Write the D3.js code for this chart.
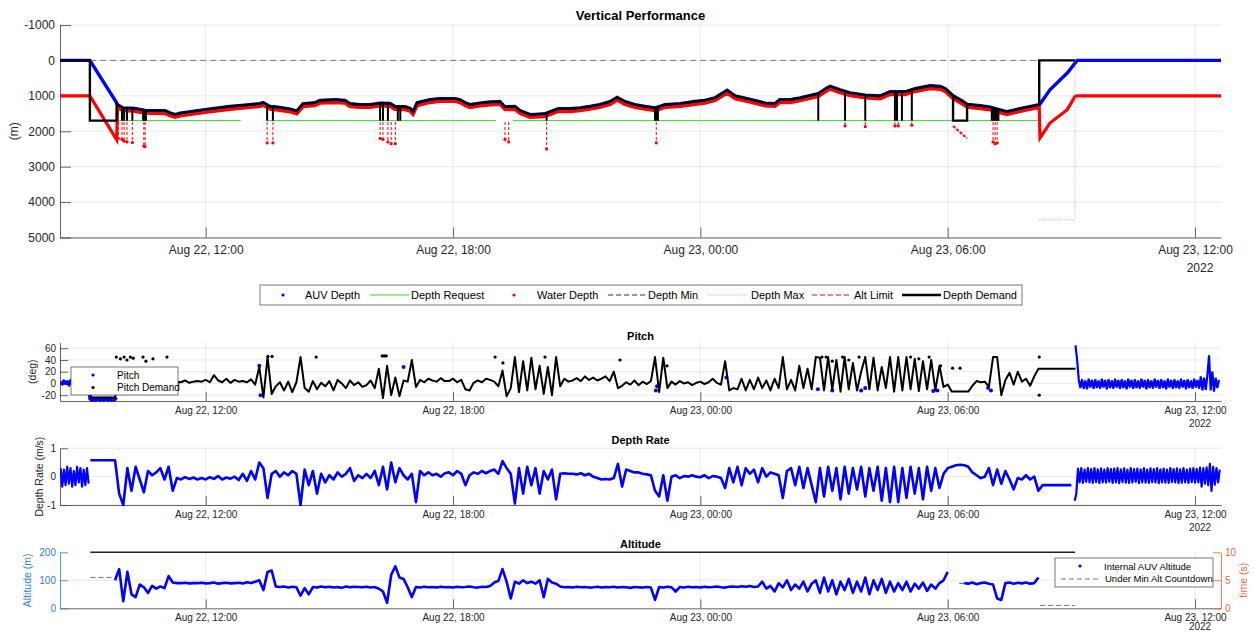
<!DOCTYPE html>
<html>
<head>
<meta charset="utf-8">
<title>Vertical Performance</title>
<script src="https://cdn.jsdelivr.net/npm/d3@7"></script>
<style>
    body { margin: 0; background: #ffffff; }
    svg text { font-family: "Liberation Sans", Arial, Helvetica, sans-serif; }
</style>
</head>
<body>
<div id="chart"></div>
<script>
// All times are hours after Aug 22 2022, 00:00
var timeStart = 8.465;
var timeEnd = 36.63;
var yearLabel = "2022";

// ---- Vertical Performance (m, positive down)
var profileHours = [8.47, 9.19, 9.84, 9.86, 9.99, 10.24, 10.53, 11.01, 11.13, 11.26, 11.38, 11.98, 12.59, 13.07, 13.32, 13.39,
    13.56, 13.80, 14.05, 14.21, 14.36, 14.65, 14.77, 15.14, 15.38, 15.50, 15.74, 15.99, 16.23, 16.47, 16.59, 16.84,
    16.96, 17.03, 17.13, 17.44, 17.68, 18.05, 18.17, 18.29, 18.41, 18.65, 18.90, 19.14, 19.26, 19.50, 19.63, 19.87,
    20.11, 20.23, 20.55, 20.84, 21.08, 21.32, 21.56, 21.81, 21.98, 22.17, 22.41, 22.66, 22.90, 23.02, 23.14, 23.51,
    23.87, 24.11, 24.36, 24.65, 24.84, 25.21, 25.57, 25.81, 25.93, 26.18, 26.42, 26.86, 27.07, 27.15, 27.39, 27.63,
    28.00, 28.36, 28.60, 28.97, 29.21, 29.57, 29.82, 29.94, 30.13, 30.37, 30.47, 30.79, 31.03, 31.27, 31.44, 31.63,
    31.99, 32.22, 32.24, 32.48, 32.90, 33.09, 33.14, 36.63];
var auvDepth = [0, 0, 1200, 1250, 1340, 1350, 1410, 1420, 1480, 1530, 1490, 1390, 1300, 1250, 1220, 1190,
    1300, 1330, 1375, 1430, 1225, 1195, 1130, 1110, 1130, 1225, 1250, 1250, 1205, 1215, 1300, 1310,
    1355, 1450, 1195, 1110, 1080, 1080, 1110, 1195, 1250, 1205, 1175, 1165, 1310, 1300, 1420, 1530,
    1515, 1505, 1365, 1365, 1340, 1300, 1250, 1165, 1045, 1165, 1250, 1300, 1340, 1300, 1250, 1220,
    1160, 1130, 1055, 845, 1000, 1100, 1205, 1220, 1110, 1110, 1060, 940, 780, 735, 830, 915,
    980, 1005, 885, 885, 800, 715, 735, 800, 1000, 1160, 1240, 1280, 1320, 1395, 1450, 1395,
    1305, 1250, 1230, 830, 355, 75, 0, 0];
var waterDepth = [1000, 1000, 2240, 1330, 1420, 1430, 1490, 1500, 1560, 1610, 1570, 1470, 1380, 1330, 1300, 1270,
    1380, 1410, 1455, 1510, 1305, 1275, 1210, 1190, 1210, 1305, 1330, 1330, 1285, 1295, 1380, 1390,
    1435, 1530, 1275, 1190, 1160, 1160, 1190, 1275, 1330, 1285, 1255, 1245, 1390, 1380, 1500, 1610,
    1595, 1585, 1445, 1445, 1420, 1380, 1330, 1245, 1125, 1245, 1330, 1380, 1420, 1380, 1330, 1300,
    1240, 1210, 1135, 925, 1080, 1180, 1285, 1300, 1190, 1190, 1140, 1020, 860, 815, 910, 995,
    1060, 1085, 965, 965, 880, 795, 815, 880, 1080, 1240, 1320, 1360, 1400, 1475, 1530, 1475,
    1385, 1330, 2190, 1770, 1390, 1017, 1000, 1000];

var requestHours = [9.84, 12.85, null, 13.49, 19.04, null, 19.45, 32.24];
var requestDepth = [1700, 1700, null, 1700, 1700, null, 1700, 1700];

var depthMinHours = [8.47, 33.09];
var depthMinValues = [0, 0];
var depthMaxHours = [32.22, 33.09, 33.09];
var depthMaxValues = [4500, 4500, 0];

var altLimitHours = [9.88, 9.97, 10.02, 10.09, 10.22, 10.50, 10.53, 13.49, 13.63, 16.23, 16.30, 16.42, 16.50,
    16.60, 19.26, 19.35, 20.27, 22.93, 27.51, 28.00, 28.72, 28.80, 29.13, 31.10, 31.15, 31.20];
var altLimitBottom = [2200, 2230, 2280, 2300, 2320, 2420, 2430, 2330, 2330, 2200, 2230, 2300, 2350,
    2350, 2230, 2300, 2500, 2330, 1850, 1870, 1850, 1850, 1830, 2300, 2350, 2330];
var altLimitSlopeHours = [30.13, 30.47];
var altLimitSlopeDepth = [1850, 2200];

var demandStartHours = [8.47, 9.19, 9.19, 9.84, 9.84];
var demandStartDepth = [0, 0, 1700, 1700, 1200];
var demandBoxHours = [30.13, 30.13, 30.47, 30.47];
var demandBoxDepth = [1000, 1700, 1700, 1240];
var demandEndHours = [32.22, 32.22, 33.09];
var demandEndDepth = [1250, 0, 0];
var demandSpikeHours = [9.97, 10.02, 10.09, 10.22, 10.48, 10.51, 10.55, 13.49, 13.63, 16.23, 16.30, 16.42, 16.66,
    16.72, 20.27, 22.90, 22.93, 22.97, 26.86, 27.51, 28.00, 28.72, 28.77, 28.89, 29.13, 31.07, 31.10,
    31.13, 31.17, 31.20, 31.23];
var demandSpikeDepth = 1700;

var depthLegend = ["AUV Depth", "Depth Request", "Water Depth", "Depth Min", "Depth Max", "Alt Limit", "Depth Demand"];

// ---- Pitch (deg)
var pitchStartHour = 8.48, pitchStartStep = 0.04;
var pitchStart = [2, 0, 3, 1, 2, -1, 3, 0, 2, 1, 3, -1, 2, 0, 3, 1, 2, 0,
    -26, -28, -26, -28, -27, -26, -28, -26, -28, -27, -26, -28, -26, -28, -27, -26, -28];
var pitchEndHour = 33.1, pitchEndStep = 0.04;
var pitchEnd = [65, 40, 6, -8, 7, -9, 5, -10, 8, -7,
    6, -9, 7, -8, 5, -9, 8, -7, 6, -10,
    7, -8, 5, -9, 8, -7, 6, -9, 7, -8,
    5, -10, 8, -7, 6, -9, 7, -8, 5, -9,
    8, -7, 6, -10, 7, -8, 5, -9, 8, -7,
    6, -9, 7, -8, 5, -10, 8, -7, 6, -9,
    7, -8, 5, -9, 8, -7, 6, -10, 7, -8,
    5, -9, 8, -7, 6, -9, 12, -12, 10, -11,
    14, 48, -12, 20, -14, 10, -8, 6];
var pitchSpotHours = [13.3, 13.33, 16.8, 22.92, 22.95, 24.63, 26.85, 27.2, 27.9, 28.0, 29.65, 29.75, 30.98, 31.05];
var pitchSpotValues = [30, -20, 28, -12, -5, 10, -10, -12, -12, -8, -13, -12, -8, -12];

var pitchDemandHour = 9.2, pitchDemandStep = 0.1;
var pitchDemand = [-24, -24, -24, -24, -24, -24, -24,
    2, 4, 1, 5, 3, 6, 2, 4, 1, 3,
    2, 5, 1, 4, 3, 2, 5, 1, 3, 4,
    3, 6, 2, 14, 5, 2, 8, 1, 6, 3,
    4, 2, 7, -2, 28, -24, 45, -18, -5, 2,
    -12, 3, -15, 2, 45, -8, -14, 4, -10, 1,
    -5, 4, -12, 6, 0, -8, 5, -3, 2, -6,
    -3, 5, -8, 25, -25, 30, -20, 10, -22, 5,
    3, 40, -6, 6, 2, 8, 5, 3, 9, 4,
    4, 8, 2, 6, -10, -12, 1, 5, 2, 8,
    6, 3, -5, 22, -22, -8, 45, -15, 38, -12,
    44, -10, 30, -18, 28, -20, 45, -5, 8, 3,
    5, 9, 4, 12, 6, 10, 5, 8, 12, 4,
    20, -8, -4, 2, -2, 5, -3, 3, -1, 4,
    45, -15, 44, -8, 3, -2, 4, 0, 2, -3,
    1, 3, -1, 2, 8, 1, -2, 38, -12, -8,
    -10, 8, -12, 6, -10, 10, -8, 5, -12, 8,
    -8, 45, -10, 6, -12, 30, -8, 25, -10, 45,
    44, -12, 45, -10, 40, -14, 45, -10, 35, -12,
    20, 45, -10, 44, -12, 28, -8, 45, -14, 45,
    -12, 45, -10, 42, -13, 38, -10, 40, -12, 30,
    -6, -2, -14, -14, -14, -14, -14, -4, 4, 2,
    3, -6, 45, 45, -20, 6, 18, -2, 20, 3,
    8, -4, 12, 25, 25, 25, 25, 25, 25, 25, 25, 25, 25];
var pitchDotHours = [9.83, 9.93, 10.02, 10.09, 10.17, 10.24, 10.48, 10.55, 10.72, 11.06, 13.51, 13.61, 14.68,
    16.28, 16.33, 16.38, 19.02, 19.21, 20.23, 22.05, 23.19, 26.95, 27.05, 27.2, 27.45, 27.6, 27.85,
    29.1, 29.3, 29.55, 29.83, 30.12, 30.3, 32.22, 32.22];
var pitchDotValues = [45, 42, 45, 40, 45, 43, 45, 38, 42, 45, 46, 46, 45,
    47, 47, 47, 45, 35, 45, 40, 30, 45, 45, 38, 45, 40, 45,
    45, 42, 45, 30, 26, 26, 45, -20];
var pitchLegend = ["Pitch", "Pitch Demand"];

// ---- Depth Rate (m/s)
var rateStartHour = 8.48, rateStartStep = 0.04;
var rateStart = [0.3, -0.35, 0.25, -0.3, 0.35, -0.25, 0.3, -0.35, 0.2, -0.3, 0.35, -0.2, 0.3, -0.35, 0.25, -0.3, 0.3, -0.25];
var rateMidHour = 9.2, rateMidStep = 0.1;
var rateMid = [0.58, 0.58, 0.58, 0.58, 0.58, 0.58, 0.58,
    -0.6, -1.0, 0.3, -0.5, 0.35, -0.1, -0.55, 0.2, 0.05, 0.15,
    0.3, -0.1, 0.35, -0.5, -0.05, -0.1, -0.02, -0.08, -0.03, -0.1,
    -0.05, -0.1, -0.02, -0.08, 0.02, -0.1, -0.03, -0.07, 0.0, -0.12,
    0.1, -0.15, 0.2, -0.1, 0.5, 0.3, -0.75, 0.1, 0.2, 0.0,
    0.15, 0.05, 0.2, 0.1, -1.0, 0.25, -0.3, 0.2, -0.6, 0.1,
    -0.2, 0.05, -0.1, 0.15, 0.0, 0.1, 0.3, -0.15, 0.05, -0.05,
    0.1, -0.05, 0.2, -0.3, 0.35, -0.45, 0.5, -0.2, 0.3, 0.05,
    -0.1, 0.1, -0.9, 0.2, 0.05, 0.15, 0.05, 0.1, 0.0, 0.12,
    0.15, 0.05, 0.2, 0.1, -0.3, 0.05, 0.15, 0.1, 0.2, 0.12,
    0.2, 0.25, 0.1, 0.55, 0.3, 0.1, -0.95, 0.3, -0.6, 0.35,
    -0.3, 0.3, -0.6, 0.2, -0.1, 0.25, -0.8, 0.1, 0.12, 0.1,
    0.1, 0.08, 0.12, 0.05, 0.1, 0.0, -0.05, -0.1, -0.08, -0.1,
    -0.05, 0.45, -0.35, 0.25, 0.2, 0.15, 0.15, 0.1, 0.08, 0.05,
    -0.5, -0.7, 0.05, -0.85, 0.0, 0.05, -0.05, 0.02, 0.0, 0.05,
    0.0, -0.02, 0.05, -0.05, 0.02, 0.0, -0.05, -0.4, 0.3, -0.2,
    0.35, -0.3, 0.3, 0.1, 0.25, -0.2, 0.3, 0.0, 0.15, 0.1,
    0.05, -0.75, 0.2, 0.3, -0.3, 0.35, -0.4, 0.3, -0.3, -0.9,
    0.3, -0.7, 0.35, -0.5, 0.3, -0.8, 0.35, -0.6, 0.3, -0.45,
    0.35, -0.7, 0.3, -0.5, 0.35, -0.85, 0.3, -0.9, 0.35, -0.9,
    0.3, -0.75, 0.35, -0.6, 0.3, -0.8, 0.35, -0.5, 0.3, -0.4,
    0.1, 0.3, 0.35, 0.4, 0.42, 0.4, 0.35, 0.15, 0.05, -0.05,
    0.0, 0.3, -0.3, 0.25, -0.25, 0.2, -0.1, -0.45, -0.05, -0.1,
    0.05, -0.1, 0.0, -0.5, -0.3, -0.3, -0.3, -0.3, -0.3, -0.3, -0.3, -0.3];
var rateEndHour = 33.08, rateEndStep = 0.04;
var rateEnd = [-0.85, -0.6, 0.28, -0.2, 0.3, -0.22, 0.25, -0.18, 0.3, -0.2,
    0.27, -0.22, 0.3, -0.19, 0.26, -0.23, 0.29, -0.2, 0.25, -0.21,
    0.3, -0.18, 0.27, -0.22, 0.28, -0.2, 0.3, -0.23, 0.26, -0.19,
    0.29, -0.21, 0.25, -0.22, 0.3, -0.2, 0.27, -0.18, 0.28, -0.23,
    0.26, -0.2, 0.3, -0.21, 0.25, -0.22, 0.29, -0.19, 0.27, -0.2,
    0.3, -0.23, 0.26, -0.2, 0.28, -0.21, 0.25, -0.22, 0.3, -0.19,
    0.27, -0.2, 0.29, -0.23, 0.26, -0.21, 0.3, -0.2, 0.25, -0.22,
    0.28, -0.19, 0.3, -0.21, 0.27, -0.2, 0.32, -0.35, 0.3, -0.25,
    0.33, -0.3, 0.45, -0.5, 0.35, -0.28, 0.3, -0.2, 0.25];

// ---- Altitude (m) and Under Min Alt Countdown (s)
var altitudeHour = 9.8, altitudeStep = 0.1;
var altitude = [100, 140, 25, 130, 50, 40, 85, 75, 55, 80,
    70, 78, 72, 115, 92, 90, 90, 91, 89, 90,
    90, 91, 89, 90, 92, 88, 90, 91, 89, 90,
    91, 89, 93, 90, 95, 100, 65, 130, 135, 78,
    76, 78, 74, 77, 75, 45, 72, 50, 76, 74,
    78, 75, 77, 74, 76, 73, 78, 75, 77, 76,
    75, 77, 74, 76, 70, 60, 20, 120, 150, 110,
    105, 75, 40, 76, 74, 77, 75, 76, 74, 77,
    75, 76, 74, 77, 75, 76, 78, 75, 74, 77,
    76, 80, 92, 98, 140, 95, 35, 95, 88, 100,
    90, 95, 88, 100, 40, 105, 92, 88, 78, 75,
    76, 74, 77, 75, 76, 74, 75, 77, 74, 76,
    75, 77, 74, 76, 75, 73, 76, 75, 74, 76,
    74, 30, 76, 74, 77, 75, 60, 76, 74, 77,
    75, 76, 74, 77, 75, 76, 78, 75, 74, 77,
    78, 76, 79, 77, 80, 76, 78, 95, 70, 80,
    60, 90, 75, 100, 65, 85, 70, 95, 60, 88,
    100, 55, 110, 60, 100, 50, 95, 65, 105, 55,
    95, 60, 110, 50, 100, 65, 105, 55, 95, 60,
    90, 65, 95, 60, 88, 70, 92, 62, 85, 70,
    90, 100, 130, null, null, null, 90, 88, 92, 86,
    90, 92, 88, 85, 35, 30, 90, 92, 88, 91,
    89, 92, 88, 90, 110];
var countdownTopHours = [9.2, 33.09];
var countdownTopValues = [10, 10];
var countdownHours = [9.2, 9.75, null, 30.28, 30.42, null, 32.24, 33.09];
var countdownValues = [5.5, 5.5, null, 4.45, 4.45, null, 0.5, 0.5];
var altitudeLegend = ["Internal AUV Altitude", "Under Min Alt Countdown"];

function hoursToDate(hr) {
    return new Date(new Date(2022, 7, 22, 0, 0, 0).getTime() + hr * 3600000);
}

// join an hours list and a values list into points
function pairs(hours, values) {
    return hours.map(function(hr, i) { return {t: hr, v: values[i]}; });
}

// evenly sampled series
function stepSeries(start, step, values) {
    return values.map(function(v, i) { return {t: start + i * step, v: v}; });
}

function init() {
    var w = 1254;
    var h = 632;
    var plotLeft = 60;
    var plotRight = 1221;
    var axisColor = "#404040";
    var textColor = "#262626";
    var gridColor = "#e4e4e4";
    var altBlue = "#2b7fd4";
    var altOrange = "#e8693e";

    var svg = d3.select("#chart")
                .append("svg")
                .attr("width", w)
                .attr("height", h);

    var x = d3.scaleTime()
                .domain([hoursToDate(timeStart), hoursToDate(timeEnd)])
                .range([plotLeft, plotRight]);
    var xTicks = x.ticks(d3.timeHour.every(6));
    var xFormat = d3.timeFormat("%b %d, %H:%M");

    function lineFor(yScale) {
        return d3.line()
            .defined(function(d) { return d.t != null && d.v != null; })
            .x(function(d) { return x(hoursToDate(d.t)); })
            .y(function(d) { return yScale(d.v); });
    }

    // grid, axes, tick labels and title of one panel
    function drawFrame(top, bottom, yScale, yTicks, opt) {
        var g = svg.append("g");

        g.selectAll(".vgrid")
            .data(xTicks)
            .enter()
            .append("line")
            .attr("x1", function(d) { return x(d); })
            .attr("x2", function(d) { return x(d); })
            .attr("y1", top)
            .attr("y2", bottom)
            .attr("stroke", gridColor)
            .attr("stroke-width", 0.8);

        g.selectAll(".hgrid")
            .data(opt.gridValues)
            .enter()
            .append("line")
            .attr("x1", plotLeft)
            .attr("x2", plotRight)
            .attr("y1", function(d) { return yScale(d); })
            .attr("y2", function(d) { return yScale(d); })
            .attr("stroke", gridColor)
            .attr("stroke-width", 0.8);

        var xAxis = d3.axisBottom(x)
                        .tickValues(xTicks)
                        .tickFormat(xFormat)
                        .tickSize(-opt.xTickLen)
                        .tickSizeOuter(0)
                        .tickPadding(opt.xPad);
        var gx = g.append("g")
            .attr("transform", "translate(0," + bottom + ")")
            .call(xAxis);
        gx.selectAll("line, path").attr("stroke", axisColor).attr("stroke-width", 0.8);
        gx.selectAll("text").attr("fill", textColor).attr("font-size", opt.font + "px");

        // year under the last tick
        g.append("text")
            .attr("x", x(xTicks[xTicks.length - 1]) + 5)
            .attr("y", bottom + opt.yearDy)
            .attr("text-anchor", "middle")
            .attr("fill", textColor)
            .attr("font-size", opt.font + "px")
            .text(yearLabel);

        var yAxis = d3.axisLeft(yScale)
                        .tickValues(yTicks)
                        .tickFormat(function(d) { return String(d); })
                        .tickSize(-opt.yTickLen)
                        .tickSizeOuter(0)
                        .tickPadding(opt.yPad);
        var gy = g.append("g")
            .attr("transform", "translate(" + plotLeft + ",0)")
            .call(yAxis);
        var yColor = opt.yColor || axisColor;
        gy.selectAll("line, path").attr("stroke", yColor).attr("stroke-width", 0.8);
        gy.selectAll("text").attr("fill", opt.yColor || textColor).attr("font-size", opt.font + "px");

        g.append("text")
            .attr("x", (plotLeft + plotRight) / 2)
            .attr("y", opt.titleY)
            .attr("text-anchor", "middle")
            .attr("font-weight", "bold")
            .attr("font-size", opt.titleSize + "px")
            .attr("fill", "#000")
            .text(opt.title);

        g.append("text")
            .attr("transform", "translate(" + opt.labelX + "," + (top + bottom) / 2 + ") rotate(-90)")
            .attr("text-anchor", "middle")
            .attr("font-size", opt.labelSize + "px")
            .attr("fill", opt.yColor || textColor)
            .text(opt.label);
    }

    function clipFor(id, top, bottom) {
        svg.append("clipPath")
            .attr("id", id)
            .append("rect")
            .attr("x", plotLeft)
            .attr("y", top - 2)
            .attr("width", plotRight - plotLeft + 2)
            .attr("height", bottom - top + 4);
        return svg.append("g").attr("clip-path", "url(#" + id + ")");
    }

    // ================= Vertical Performance =================
    var dTop = 25, dBottom = 237.5;
    var yD = d3.scaleLinear().domain([-1000, 5000]).range([dTop, dBottom]);
    drawFrame(dTop, dBottom, yD, [-1000, 0, 1000, 2000, 3000, 4000, 5000], {
        gridValues: [-1000, 0, 1000, 2000, 3000, 4000, 5000],
        xTickLen: 10, yTickLen: 11, xPad: 8, yPad: 5, font: 12, yearDy: 34,
        title: "Vertical Performance", titleY: 20, titleSize: 13,
        label: "(m)", labelX: 18, labelSize: 12
    });
    var gD = clipFor("clipDepth", dTop, dBottom);
    var lineD = lineFor(yD);

    // AUV depth
    gD.append("path")
        .datum(pairs(profileHours, auvDepth))
        .attr("d", lineD)
        .attr("fill", "none")
        .attr("stroke", "#0000ff")
        .attr("stroke-width", 3.4);

    // depth request
    gD.append("path")
        .datum(pairs(requestHours, requestDepth))
        .attr("d", lineD)
        .attr("fill", "none")
        .attr("stroke", "#3ad23a")
        .attr("stroke-width", 1);

    // water depth
    gD.append("path")
        .datum(pairs(profileHours, waterDepth))
        .attr("d", lineD)
        .attr("fill", "none")
        .attr("stroke", "#ff0000")
        .attr("stroke-width", 3.2);

    // depth min
    gD.append("path")
        .datum(pairs(depthMinHours, depthMinValues))
        .attr("d", lineD)
        .attr("fill", "none")
        .attr("stroke", "#7a7a7a")
        .attr("stroke-width", 1)
        .attr("stroke-dasharray", "6,4");

    // depth max
    gD.append("path")
        .datum(pairs(depthMaxHours, depthMaxValues))
        .attr("d", lineD)
        .attr("fill", "none")
        .attr("stroke", "#9a9a9a")
        .attr("stroke-width", 0.8)
        .attr("stroke-dasharray", "1,1.5");

    // alt limit drops
    var altData = pairs(altLimitHours, altLimitBottom);
    gD.selectAll(".altlim")
        .data(altData)
        .enter()
        .append("line")
        .attr("x1", function(d) { return x(hoursToDate(d.t)); })
        .attr("x2", function(d) { return x(hoursToDate(d.t)); })
        .attr("y1", yD(demandSpikeDepth + 40))
        .attr("y2", function(d) { return yD(d.v); })
        .attr("stroke", "#ff0000")
        .attr("stroke-width", 1)
        .attr("stroke-dasharray", "3,2");
    gD.selectAll(".altdot")
        .data(altData)
        .enter()
        .append("circle")
        .attr("cx", function(d) { return x(hoursToDate(d.t)); })
        .attr("cy", function(d) { return yD(d.v); })
        .attr("r", 1.6)
        .attr("fill", "#ff0000");
    gD.append("path")
        .datum(pairs(altLimitSlopeHours, altLimitSlopeDepth))
        .attr("d", lineD)
        .attr("fill", "none")
        .attr("stroke", "#ff0000")
        .attr("stroke-width", 2)
        .attr("stroke-dasharray", "3,1.5");

    // depth demand: steps, profile follow, spikes
    var profileAt = d3.scaleLinear().domain(profileHours).range(auvDepth);
    var follow = pairs(profileHours, auvDepth).filter(function(d) { return d.t >= 9.84 && d.t <= 32.22; });
    var demandParts = [pairs(demandStartHours, demandStartDepth), follow,
        pairs(demandBoxHours, demandBoxDepth), pairs(demandEndHours, demandEndDepth)];
    gD.selectAll(".demand")
        .data(demandParts)
        .enter()
        .append("path")
        .attr("d", lineD)
        .attr("fill", "none")
        .attr("stroke", "#000")
        .attr("stroke-width", 2.4)
        .attr("stroke-linejoin", "miter");
    gD.selectAll(".spike")
        .data(demandSpikeHours)
        .enter()
        .append("line")
        .attr("x1", function(d) { return x(hoursToDate(d)); })
        .attr("x2", function(d) { return x(hoursToDate(d)); })
        .attr("y1", function(d) { return yD(profileAt(d)); })
        .attr("y2", yD(demandSpikeDepth))
        .attr("stroke", "#000")
        .attr("stroke-width", 2);

    // legend
    var lg = svg.append("g");
    lg.append("rect")
        .attr("x", 260).attr("y", 285)
        .attr("width", 762).attr("height", 20)
        .attr("fill", "#fff")
        .attr("stroke", axisColor)
        .attr("stroke-width", 0.7);
    var legendSym = [
        {kind: "dot", color: "#0000ff", x0: 283, tx: 305},
        {kind: "line", color: "#3ad23a", x0: 370, x1: 409, width: 1, dash: null, tx: 411},
        {kind: "dot", color: "#ff0000", x0: 514, tx: 537},
        {kind: "line", color: "#333", x0: 608, x1: 645, width: 1, dash: "5,3", tx: 648},
        {kind: "line", color: "#aaa", x0: 708, x1: 747, width: 0.8, dash: "1,1", tx: 751},
        {kind: "line", color: "#ff0000", x0: 812, x1: 850, width: 1, dash: "5,3", tx: 854},
        {kind: "line", color: "#000", x0: 902, x1: 941, width: 2.5, dash: null, tx: 943}
    ];
    legendSym.forEach(function(s, i) {
        if (s.kind === "dot") {
            lg.append("circle").attr("cx", s.x0).attr("cy", 295).attr("r", 1.6).attr("fill", s.color);
        } else {
            lg.append("line")
                .attr("x1", s.x0).attr("x2", s.x1)
                .attr("y1", 295).attr("y2", 295)
                .attr("stroke", s.color)
                .attr("stroke-width", s.width)
                .attr("stroke-dasharray", s.dash);
        }
        lg.append("text")
            .attr("x", s.tx).attr("y", 299)
            .attr("font-size", "11px")
            .attr("fill", "#000")
            .text(depthLegend[i]);
    });

    // ================= Pitch =================
    var pTop = 342.4, pBottom = 401;
    var yP = d3.scaleLinear().domain([-30, 70]).range([pBottom, pTop]);
    drawFrame(pTop, pBottom, yP, [-20, 0, 20, 40, 60], {
        gridValues: [-20, 0, 20, 40, 60],
        xTickLen: 9, yTickLen: 8, xPad: 6, yPad: 4, font: 10, yearDy: 26,
        title: "Pitch", titleY: 340, titleSize: 11,
        label: "(deg)", labelX: 36, labelSize: 10.5
    });
    var gP = clipFor("clipPitch", pTop, pBottom);
    var lineP = lineFor(yP);

    gP.append("path")
        .datum(stepSeries(pitchStartHour, pitchStartStep, pitchStart))
        .attr("d", lineP)
        .attr("fill", "none")
        .attr("stroke", "#0000ff")
        .attr("stroke-width", 4);
    gP.append("path")
        .datum(stepSeries(pitchEndHour, pitchEndStep, pitchEnd))
        .attr("d", lineP)
        .attr("fill", "none")
        .attr("stroke", "#0000ff")
        .attr("stroke-width", 2.2);
    gP.selectAll(".pspot")
        .data(pairs(pitchSpotHours, pitchSpotValues))
        .enter()
        .append("circle")
        .attr("cx", function(d) { return x(hoursToDate(d.t)); })
        .attr("cy", function(d) { return yP(d.v); })
        .attr("r", 2)
        .attr("fill", "#0000ff");
    gP.append("path")
        .datum(stepSeries(pitchDemandHour, pitchDemandStep, pitchDemand))
        .attr("d", lineP)
        .attr("fill", "none")
        .attr("stroke", "#000")
        .attr("stroke-width", 2)
        .attr("stroke-linejoin", "round");
    gP.selectAll(".pdot")
        .data(pairs(pitchDotHours, pitchDotValues))
        .enter()
        .append("circle")
        .attr("cx", function(d) { return x(hoursToDate(d.t)); })
        .attr("cy", function(d) { return yP(d.v); })
        .attr("r", 1.6)
        .attr("fill", "#000");

    var pl = svg.append("g");
    pl.append("rect")
        .attr("x", 71).attr("y", 367)
        .attr("width", 107).attr("height", 28)
        .attr("fill", "#fff")
        .attr("stroke", axisColor)
        .attr("stroke-width", 0.7);
    pl.append("circle").attr("cx", 93).attr("cy", 375).attr("r", 1.6).attr("fill", "#0000ff");
    pl.append("circle").attr("cx", 93).attr("cy", 387.5).attr("r", 1.6).attr("fill", "#000");
    pl.selectAll(".ptxt")
        .data(pitchLegend)
        .enter()
        .append("text")
        .attr("x", 117)
        .attr("y", function(d, i) { return 378.5 + i * 12.5; })
        .attr("font-size", "10px")
        .attr("fill", "#000")
        .text(function(d) { return d; });

    // ================= Depth Rate =================
    var rTop = 448.3, rBottom = 505;
    var yR = d3.scaleLinear().domain([-1, 1]).range([rBottom, rTop]);
    drawFrame(rTop, rBottom, yR, [-1, 0, 1], {
        gridValues: [-1, 0, 1],
        xTickLen: 9, yTickLen: 8, xPad: 6, yPad: 4, font: 10, yearDy: 26,
        title: "Depth Rate", titleY: 444, titleSize: 11,
        label: "Depth Rate (m/s)", labelX: 43, labelSize: 10.5
    });
    var gR = clipFor("clipRate", rTop, rBottom);
    var lineR = lineFor(yR);
    [stepSeries(rateStartHour, rateStartStep, rateStart),
     stepSeries(rateMidHour, rateMidStep, rateMid),
     stepSeries(rateEndHour, rateEndStep, rateEnd)].forEach(function(seg, i) {
        gR.append("path")
            .datum(seg)
            .attr("d", lineR)
            .attr("fill", "none")
            .attr("stroke", "#0000ff")
            .attr("stroke-width", i === 1 ? 2.6 : 2.2)
            .attr("stroke-linejoin", "round");
    });

    // ================= Altitude =================
    var aTop = 552.3, aBottom = 608.3;
    var yA = d3.scaleLinear().domain([0, 200]).range([aBottom, aTop]);
    var yT = d3.scaleLinear().domain([0, 10]).range([aBottom, aTop]);
    drawFrame(aTop, aBottom, yA, [0, 100, 200], {
        gridValues: [100],
        xTickLen: 9, yTickLen: 8, xPad: 6, yPad: 4, font: 10, yearDy: 22,
        title: "Altitude", titleY: 548, titleSize: 11,
        label: "Altitude (m)", labelX: 31, labelSize: 10.5, yColor: altBlue
    });

    // right axis for the countdown
    var rightAxis = d3.axisRight(yT)
                        .tickValues([0, 5, 10])
                        .tickSize(-8)
                        .tickSizeOuter(0)
                        .tickPadding(4);
    var gTa = svg.append("g")
        .attr("transform", "translate(" + plotRight + ",0)")
        .call(rightAxis);
    gTa.selectAll("line, path").attr("stroke", altOrange).attr("stroke-width", 0.8);
    gTa.selectAll("text").attr("fill", altOrange).attr("font-size", "10px");
    svg.append("text")
        .attr("transform", "translate(1247," + (aTop + aBottom) / 2 + ") rotate(-90)")
        .attr("text-anchor", "middle")
        .attr("font-size", "10.5px")
        .attr("fill", altOrange)
        .text("time (s)");

    var gA = clipFor("clipAlt", aTop, aBottom);
    gA.append("path")
        .datum(pairs(countdownTopHours, countdownTopValues))
        .attr("d", lineFor(yT))
        .attr("fill", "none")
        .attr("stroke", "#222")
        .attr("stroke-width", 1.6);
    gA.append("path")
        .datum(pairs(countdownHours, countdownValues))
        .attr("d", lineFor(yT))
        .attr("fill", "none")
        .attr("stroke", "#777")
        .attr("stroke-width", 1.2)
        .attr("stroke-dasharray", "5,3");
    gA.append("path")
        .datum(stepSeries(altitudeHour, altitudeStep, altitude))
        .attr("d", lineFor(yA))
        .attr("fill", "none")
        .attr("stroke", "#0000ff")
        .attr("stroke-width", 2.6)
        .attr("stroke-linejoin", "round");

    var al = svg.append("g");
    al.append("rect")
        .attr("x", 1055).attr("y", 558)
        .attr("width", 158).attr("height", 29)
        .attr("fill", "#fff")
        .attr("stroke", axisColor)
        .attr("stroke-width", 0.7);
    al.append("circle").attr("cx", 1080).attr("cy", 566).attr("r", 1.6).attr("fill", "#0000ff");
    al.append("line")
        .attr("x1", 1061).attr("x2", 1100)
        .attr("y1", 579).attr("y2", 579)
        .attr("stroke", "#777")
        .attr("stroke-width", 1)
        .attr("stroke-dasharray", "5,3");
    al.selectAll(".atxt")
        .data(altitudeLegend)
        .enter()
        .append("text")
        .attr("x", function(d, i) { return i === 0 ? 1104 : 1105; })
        .attr("y", function(d, i) { return 569.5 + i * 12.5; })
        .attr("font-size", "9.5px")
        .attr("fill", "#000")
        .text(function(d) { return d; });
}

window.onload = init;
</script>
</body>
</html>
